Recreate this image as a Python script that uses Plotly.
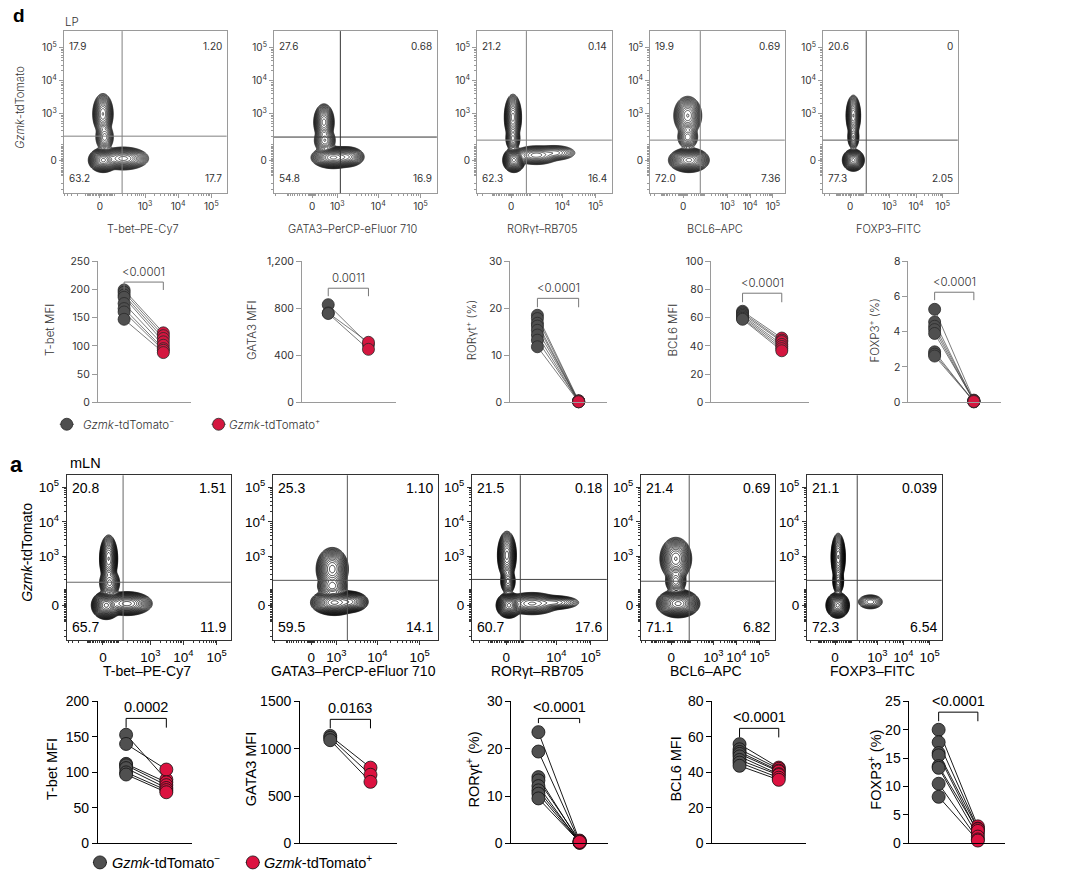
import numpy as np
import plotly.graph_objects as go

# =================== DATA ===================
flow_x_titles = ["T-bet–PE-Cy7", "GATA3–PerCP-eFluor 710", "RORγt–RB705", "BCL6–APC", "FOXP3–FITC"]
flow_y_title = "<i>Gzmk</i>-tdTomato"

lp_quadrants = [  # UL, UR, LL, LR
    ["17.9", "1.20", "63.2", "17.7"],
    ["27.6", "0.68", "54.8", "16.9"],
    ["21.2", "0.14", "62.3", "16.4"],
    ["19.9", "0.69", "72.0", "7.36"],
    ["20.6", "0", "77.3", "2.05"],
]
mln_quadrants = [
    ["20.8", "1.51", "65.7", "11.9"],
    ["25.3", "1.10", "59.5", "14.1"],
    ["21.5", "0.18", "60.7", "17.6"],
    ["21.4", "0.69", "71.1", "6.82"],
    ["21.1", "0.039", "72.3", "6.54"],
]
lp_x_ticks = [[0, 1e3, 1e4, 1e5], [0, 1e3, 1e4, 1e5], [0, 1e4, 1e5], [0, 1e3, 1e4, 1e5], [0, 1e3, 1e4, 1e5]]
mln_x_ticks = [[0, 1e3, 1e4, 1e5], [0, 1e3, 1e4, 1e5], [0, 1e4, 1e5], [0, 1e3, 1e4, 1e5], [0, 1e3, 1e4, 1e5]]
flow_y_ticks = [0, 1e3, 1e4, 1e5]

# biexponential (arcsinh) cofactors per channel
lp_x_cofactor = [88, 543, 571, 22.2, 67.5]
lp_y_cofactor = 79
mln_x_cofactor = [75, 543, 680, 30, 48.5]
mln_y_cofactor = 76

# quadrant gates (fluorescence units)
lp_gate_x = [195, 1205, 714, 61, 127]
lp_gate_y = [203, 190, 150, 150, 150]
mln_gate_x = [142, 1917, 745, 88, 167]
mln_gate_y = [169, 194, 207, 182, 194]

# cell populations: (mode x, mode y, spread x, spread y, relative density), display decades
lp_populations = [
    [(0.10, 0.00, 0.12, 0.10, 1.0), (0.70, 0.05, 0.22, 0.10, 0.35), (0.09, 1.40, 0.09, 0.18, 0.30), (0.14, 0.70, 0.09, 0.14, 0.06)],
    [(0.50, 0.08, 0.14, 0.09, 1.0), (0.82, 0.10, 0.12, 0.09, 0.30), (0.28, 1.15, 0.07, 0.16, 0.35), (0.30, 0.60, 0.08, 0.12, 0.10)],
    [(0.08, 0.00, 0.09, 0.10, 1.0), (0.75, 0.15, 0.22, 0.09, 0.12), (1.30, 0.22, 0.22, 0.08, 0.04), (0.05, 1.30, 0.075, 0.20, 0.35), (0.05, 0.65, 0.07, 0.12, 0.08)],
    [(0.25, 0.00, 0.24, 0.10, 1.0), (0.20, 1.35, 0.18, 0.17, 0.30), (0.20, 0.70, 0.15, 0.12, 0.06)],
    [(0.12, 0.00, 0.11, 0.09, 1.0), (0.12, 1.35, 0.08, 0.18, 0.30), (0.12, 0.70, 0.07, 0.12, 0.07), (1.40, 0.15, 0.20, 0.08, 0.0005)],
]
mln_populations = [
    [(0.10, 0.00, 0.12, 0.11, 1.0), (0.72, 0.05, 0.22, 0.10, 0.35), (0.17, 1.35, 0.08, 0.20, 0.30), (0.20, 0.65, 0.10, 0.13, 0.08)],
    [(0.55, 0.08, 0.15, 0.10, 1.0), (0.90, 0.10, 0.13, 0.09, 0.35), (0.50, 1.05, 0.11, 0.18, 0.35), (0.50, 0.55, 0.11, 0.10, 0.12)],
    [(0.08, 0.00, 0.10, 0.10, 1.0), (0.75, 0.05, 0.25, 0.10, 0.15), (1.40, 0.08, 0.25, 0.07, 0.05), (0.02, 1.45, 0.08, 0.20, 0.35), (0.05, 0.70, 0.07, 0.12, 0.08)],
    [(0.30, 0.05, 0.25, 0.11, 1.0), (0.20, 1.35, 0.20, 0.18, 0.30), (0.20, 0.70, 0.15, 0.12, 0.06)],
    [(0.10, 0.00, 0.12, 0.10, 1.0), (0.12, 1.40, 0.08, 0.20, 0.30), (0.12, 0.70, 0.07, 0.12, 0.07), (1.35, 0.10, 0.18, 0.08, 0.02)],
]

mfi_titles = ["T-bet MFI", "GATA3 MFI", "RORγt<sup>+</sup> (%)", "BCL6 MFI", "FOXP3<sup>+</sup> (%)"]
lp_neg = [
    [199, 195, 190, 186, 175, 166, 160, 147],
    [830, 760, 755],
    [18.5, 17.8, 16.8, 16.2, 15.3, 14.3, 13.2, 11.8],
    [64.5, 63.5, 62.5, 61.5, 60.5, 59.5, 58.8],
    [5.27, 4.55, 4.31, 4.12, 3.90, 2.86, 2.73, 2.62],
]
lp_pos = [
    [123, 118, 113, 107, 101, 95, 92, 88],
    [490, 510, 450],
    [0.3, 0.2, 0.1, 0.2, 0.3, 0.1, 0.2, 0.1],
    [45.5, 44.0, 43.0, 41.0, 39.5, 38.0, 36.5],
    [0.12, 0.05, 0.08, 0.03, 0.10, 0.02, 0.06, 0.04],
]
mln_neg = [
    [153, 140, 112, 110, 106, 100, 97],
    [1135, 1115, 1090],
    [23.5, 19.4, 14.0, 13.3, 12.1, 11.2, 10.5, 9.5],
    [55.9, 53.0, 51.5, 50.4, 49.0, 47.0, 45.5, 43.7],
    [20.0, 17.8, 15.9, 15.5, 13.6, 13.3, 10.5, 8.2],
]
mln_pos = [
    [90, 104, 86, 82, 78, 75, 72],
    [800, 725, 650],
    [0.5, 0.3, 0.2, 0.6, 0.1, 0.4, 0.2, 0.3],
    [42.7, 42.0, 41.0, 40.5, 39.0, 38.5, 37.0, 35.8],
    [3.0, 2.6, 2.5, 1.75, 2.2, 1.2, 0.7, 0.5],
]
lp_pvals = ["<0.0001", "0.0011", "<0.0001", "<0.0001", "<0.0001"]
mln_pvals = ["0.0002", "0.0163", "<0.0001", "<0.0001", "<0.0001"]
lp_ymax = [250, 1200, 30, 100, 8]
lp_ydtick = [50, 400, 10, 20, 2]
mln_ymax = [200, 1500, 30, 80, 25]
mln_ydtick = [50, 500, 10, 20, 5]
legend_labels = ["<i>Gzmk</i>-tdTomato<sup>−</sup>", "<i>Gzmk</i>-tdTomato<sup>+</sup>"]

# =================== LAYOUT GEOMETRY (reference px) ===================
W, H = 1080, 877
LN10 = np.log(10)
# the page is photographed slightly inset; map reference pixels to figure pixels
SX, OX = 0.9944, 2.6
SY, OY = 0.9814, 7.9


def tr(v, c):
    return np.arcsinh(np.asarray(v, dtype=float) / c) / LN10


def fx(p):
    return ((p - OX) / SX) / W


def fy(p):
    return 1 - ((p - OY) / SY) / H


TOP_FONT = "Inter"
BOT_FONT = "Liberation Sans"
TOP_COL = "#333333"
BOT_COL = "#000000"

rows = [
    dict(frames=[(66, 228), (275, 437), (477, 611), (649, 783), (821, 955)], fy=(31, 193),
         xzero=[102, 313, 511, 682, 848], xdec=[33, 42, 33, 22.5, 26.5], yzero=160, ydec=33,
         xc=lp_x_cofactor, yc=lp_y_cofactor, gx=lp_gate_x, gy=lp_gate_y, quad=lp_quadrants,
         pops=lp_populations, xt=lp_x_ticks, font=TOP_FONT, col=TOP_COL, fs=10, tfs=11,
         frame_col="#9a9a9a", gate_col=["#808080", "#333333", "#808080", "#808080", "#555555"],
         cline="#111111", cw=0.7, title_y=229, ytitle_xy=(23, 108), qin=(3, 7), weight=300),
    dict(frames=[(69, 232), (274, 438), (472, 606), (640, 773), (805, 939)], fy=(475, 640),
         xzero=[105, 312, 506, 670, 833], xdec=[33, 42, 34, 23, 26], yzero=605, ydec=34.5,
         xc=mln_x_cofactor, yc=mln_y_cofactor, gx=mln_gate_x, gy=mln_gate_y, quad=mln_quadrants,
         pops=mln_populations, xt=mln_x_ticks, font=BOT_FONT, col=BOT_COL, fs=13.5, tfs=14,
         frame_col="#333333", gate_col=["#666666", "#555555", "#444444", "#555555", "#444444"],
         cline="#000000", cw=0.75, title_y=671, ytitle_xy=(30, 552), qin=(3, 3), weight=400),
]

dot_rows = [
    dict(ax=[(100, 193, 126, 165), (303, 396, 329, 369), (510, 606, 537, 578), (710, 807, 741, 780), (906, 998, 932, 971)],
         fy=(261, 402), neg=lp_neg, pos=lp_pos, pv=lp_pvals, ymax=lp_ymax, dt=lp_ydtick,
         brackets=[(213, 199), (970, 902), (22.1, 20.2), (77.3, 70.9), (6.24, 5.79)],
         title_x=[53, 253, 471, 672, 872], title_y=330, font=TOP_FONT, col=TOP_COL, fs=10.5, tfs=11.5,
         axcol="#9a9a9a", ms=12, lcol="#444444", lw=0.7, red="#d4163f", gray="#4f4f4f", mline="#2a2a2a",
         tickformat=",d", legend=(424, 69, 83, 220, 228), lfs=11.5, weight=300),
    dict(ax=[(100, 194, 128, 168), (301, 397, 331, 371), (511, 607, 538, 579), (711, 804, 738, 777), (907, 1002, 936, 975)],
         fy=(701, 843), neg=mln_neg, pos=mln_pos, pv=mln_pvals, ymax=mln_ymax, dt=mln_ydtick,
         brackets=[(176, 163), (1310, 1215), (26.4, 25.4), (64.8, 59.7), (23.1, 21.5)],
         title_x=[55, 253, 473, 675, 873], title_y=769, font=BOT_FONT, col=BOT_COL, fs=14, tfs=14.5,
         axcol="#000000", ms=13, lcol="#000000", lw=0.9, red="#dc1240", gray="#505050", mline="#111111",
         tickformat="d", legend=(862, 102, 112, 254, 263), lfs=14.5, weight=400),
]

fig = go.Figure()
annotations = []
shapes = []
counter = [0]


def new_axes(xpx, ypx, xkw, ykw):
    counter[0] += 1
    n = counter[0]
    s = "" if n == 1 else str(n)
    fig.update_layout(**{
        "xaxis" + s: dict(domain=[fx(xpx[0]), fx(xpx[1])], anchor="y" + s, **xkw),
        "yaxis" + s: dict(domain=[fy(ypx[1]), fy(ypx[0])], anchor="x" + s, **ykw),
    })
    return "x" + s, "y" + s


def ann(text, x, y, font, size, color, xanchor="center", yanchor="middle", angle=0, weight=None):
    f = dict(family=font, size=size, color=color)
    if weight:
        f["weight"] = weight
    annotations.append(dict(text=text, x=fx(x), y=fy(y), xref="paper", yref="paper", showarrow=False,
                            xanchor=xanchor, yanchor=yanchor, textangle=angle, font=f))


def tick_label(v):
    if v == 0:
        return "0"
    return "10<sup>%d</sup>" % int(round(np.log10(v)))


def minor_vals(c, lo, hi, majors):
    vals = []
    for e in range(0, 5):
        for k in range(1, 10):
            v = k * 10 ** e
            for sv in (v, -v):
                if sv in majors:
                    continue
                t = float(tr(sv, c))
                if lo < t < hi:
                    vals.append(t)
    return vals


# ---------- flow cytometry contour plots ----------
for r in rows:
    for i in range(5):
        l, rr = r["frames"][i]
        top, bot = r["fy"]
        xr = [(l - r["xzero"][i]) / r["xdec"][i], (rr - r["xzero"][i]) / r["xdec"][i]]
        yr = [(r["yzero"] - bot) / r["ydec"], (r["yzero"] - top) / r["ydec"]]
        xc, yc = r["xc"][i], r["yc"]
        tickfont = dict(family=r["font"], size=r["fs"], color=r["col"])
        common = dict(showline=True, mirror=True, linecolor=r["frame_col"], linewidth=1, showgrid=False,
                      zeroline=False, ticks="outside", ticklen=4, tickcolor=r["frame_col"], tickwidth=0.8,
                      tickfont=tickfont, fixedrange=True)
        xkw = dict(common, range=xr, tickmode="array", tickvals=list(tr(r["xt"][i], xc)),
                   ticktext=[tick_label(v) for v in r["xt"][i]],
                   minor=dict(tickvals=minor_vals(xc, xr[0], xr[1], r["xt"][i]), ticklen=2,
                              tickcolor=r["frame_col"], ticks="outside"))
        ykw = dict(common, range=yr, tickmode="array", tickvals=list(tr(flow_y_ticks, yc)),
                   ticktext=[tick_label(v) for v in flow_y_ticks],
                   minor=dict(tickvals=minor_vals(yc, yr[0], yr[1], flow_y_ticks), ticklen=2,
                              tickcolor=r["frame_col"], ticks="outside"))
        xa, ya = new_axes((l, rr), (top, bot), xkw, ykw)

        xg = np.linspace(xr[0], xr[1], 260)
        yg = np.linspace(yr[0], yr[1], 260)
        X, Y = np.meshgrid(xg, yg)
        D = np.zeros_like(X)
        for (mx, my, sx, sy, w) in r["pops"][i]:
            D += w * np.exp(-0.5 * ((X - mx) / sx) ** 2 - 0.5 * ((Y - my) / sy) ** 2)
        Z = np.log10(D / D.max() + 1e-12)
        fig.add_trace(go.Contour(x=xg, y=yg, z=Z, xaxis=xa, yaxis=ya, showscale=False, hoverinfo="skip",
                                 contours=dict(coloring="lines", start=-3.1, end=-0.05, size=0.16),
                                 colorscale=[[0, r["cline"]], [1, r["cline"]]],
                                 line=dict(width=r["cw"])))
        gx = float(tr(r["gx"][i], xc))
        gy = float(tr(r["gy"][i], yc))
        dom = ya + " domain"
        gc = r["gate_col"][i]
        shapes.append(dict(type="line", xref=xa, yref=dom, x0=gx, x1=gx, y0=0, y1=1,
                           line=dict(color=gc, width=1)))
        shapes.append(dict(type="line", xref=xa + " domain", yref=ya, x0=0, x1=1, y0=gy, y1=gy,
                           line=dict(color=gc, width=1)))
        qx, qy = r["qin"]
        q = r["quad"][i]
        qf = dict(family=r["font"], size=r["tfs"] - 1 if r["font"] == TOP_FONT else r["fs"] + 0.5, color=r["col"])
        for txt, ax_, ay_, xan, yan, xs, ys in [
            (q[0], 0, 1, "left", "top", qx, -qy), (q[1], 1, 1, "right", "top", -qx, -qy),
            (q[2], 0, 0, "left", "bottom", qx, qy), (q[3], 1, 0, "right", "bottom", -qx, qy)]:
            annotations.append(dict(text=txt, x=ax_, y=ay_, xref=xa + " domain", yref=ya + " domain",
                                    xanchor=xan, yanchor=yan, xshift=xs, yshift=ys, showarrow=False, font=qf))
        ann(flow_x_titles[i], (l + rr) / 2 - 2, r["title_y"], r["font"], r["tfs"], r["col"], weight=r["weight"])
    ann(flow_y_title, r["ytitle_xy"][0], r["ytitle_xy"][1], r["font"], r["tfs"], r["col"], angle=-90,
        weight=r["weight"])

# ---------- paired dot plots ----------
for d in dot_rows:
    for i in range(5):
        a0, a1, xg_, xr_ = d["ax"][i]
        unit = xr_ - xg_
        xrange_ = [(a0 - xg_) / unit, (a1 - xg_) / unit]
        tickfont = dict(family=d["font"], size=d["fs"], color=d["col"])
        xkw = dict(range=xrange_, showline=True, linecolor=d["axcol"], linewidth=1, showgrid=False,
                   zeroline=False, showticklabels=False, ticks="", fixedrange=True)
        ykw = dict(range=[0, d["ymax"][i]], showline=True, linecolor=d["axcol"], linewidth=1, showgrid=False,
                   zeroline=False, ticks="outside", ticklen=5, tickcolor=d["axcol"], tickwidth=1,
                   tick0=0, dtick=d["dt"][i], tickformat=d["tickformat"], tickfont=tickfont, fixedrange=True)
        xa, ya = new_axes((a0, a1), d["fy"], xkw, ykw)
        neg, pos = d["neg"][i], d["pos"][i]
        lx, ly = [], []
        for gv, rv in zip(neg, pos):
            lx += [0, 1, None]
            ly += [gv, rv, None]
        fig.add_trace(go.Scatter(x=lx, y=ly, mode="lines", xaxis=xa, yaxis=ya, showlegend=False,
                                 line=dict(color=d["lcol"], width=d["lw"]), hoverinfo="skip", cliponaxis=False))
        fig.add_trace(go.Scatter(x=[0] * len(neg), y=neg, mode="markers", xaxis=xa, yaxis=ya, showlegend=False,
                                 marker=dict(size=d["ms"], color=d["gray"], line=dict(color=d["mline"], width=0.8)),
                                 cliponaxis=False))
        fig.add_trace(go.Scatter(x=[1] * len(pos), y=pos, mode="markers", xaxis=xa, yaxis=ya, showlegend=False,
                                 marker=dict(size=d["ms"], color=d["red"], line=dict(color=d["mline"], width=0.8)),
                                 cliponaxis=False))
        btop, bleg = d["brackets"][i]
        shapes.append(dict(type="path", xref=xa, yref=ya,
                           path="M 0,%g L 0,%g L 1,%g L 1,%g" % (bleg, btop, btop, bleg),
                           line=dict(color=d["lcol"] if d["font"] == BOT_FONT else "#777777", width=1)))
        pf = dict(family=d["font"], size=d["tfs"], color=d["col"])
        if d["font"] == TOP_FONT:
            pf["weight"] = 300
        annotations.append(dict(text=d["pv"][i], x=0.5, y=btop, xref=xa, yref=ya, xanchor="center",
                                yanchor="bottom", yshift=1, showarrow=False, font=pf))
        ann(mfi_titles[i], d["title_x"][i], d["title_y"], d["font"], d["tfs"], d["col"], angle=-90,
            weight=d["weight"])
    # legend
    ly_, gxm, gxt, rxm, rxt = d["legend"]
    for xm, fill, xt, lab in [(gxm, d["gray"], gxt, legend_labels[0]), (rxm, d["red"], rxt, legend_labels[1])]:
        shapes.append(dict(type="line", xref="paper", yref="paper", x0=fx(xm - 7), x1=fx(xm + 7),
                           y0=fy(ly_), y1=fy(ly_), line=dict(color=d["lcol"], width=1)))
        r_ = d["ms"] / 2
        shapes.append(dict(type="circle", xref="paper", yref="paper", xsizemode="pixel", ysizemode="pixel",
                           xanchor=fx(xm), yanchor=fy(ly_), x0=-r_, x1=r_, y0=-r_, y1=r_,
                           fillcolor=fill, line=dict(color=d["mline"], width=0.8)))
        ann(lab, xt, ly_, d["font"], d["lfs"], d["col"], xanchor="left", weight=d["weight"])

# panel letters / tissue labels
ann("<b>d</b>", 14, 15, "Liberation Sans", 19, "#000000", xanchor="left")
ann("LP", 65, 22, TOP_FONT, 11.5, TOP_COL, xanchor="left", weight=300)
ann("<b>a</b>", 11, 464, "Liberation Sans", 22, "#000000", xanchor="left")
ann("mLN", 70, 463, BOT_FONT, 14.5, BOT_COL, xanchor="left")

fig.update_layout(width=W, height=H, margin=dict(l=0, r=0, t=0, b=0), paper_bgcolor="white",
                  plot_bgcolor="white", showlegend=False, annotations=annotations, shapes=shapes)
fig.write_html("out.html", config={"displayModeBar": False},
               post_script="document.body.style.margin='0';document.body.style.overflow='hidden';")
